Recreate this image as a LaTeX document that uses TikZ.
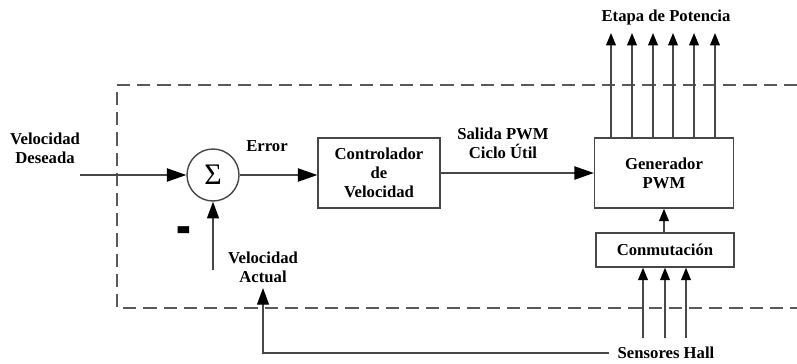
\documentclass[tikz,border=0pt]{standalone}
\usepackage{fontspec}
\setmainfont{Liberation Serif}
\usetikzlibrary{arrows.meta}
\newcommand{\lblfont}{\fontsize{9.5}{10.8}\selectfont\bfseries}
\begin{document}
\begin{tikzpicture}[x=0.02cm,y=-0.02cm,
  wire/.style={draw=black!72, line width=0.8pt,
    -{Triangle[length=7pt,width=5.5pt,color=black]}},
  bigwire/.style={wire,
    -{Triangle[length=11pt,width=7.5pt,color=black]}},
  midwire/.style={wire,
    -{Triangle[length=9.5pt,width=6.8pt,color=black]}},
  block/.style={draw=black!72, line width=0.8pt, inner sep=0pt,
    align=center, font=\lblfont},
  lbl/.style={align=center, font=\lblfont, inner sep=2pt},
  frame/.style={draw=black!65, line width=0.7pt,
    dash pattern=on 7.5pt off 4pt}]
\useasboundingbox (0,0) rectangle (797,363);

% dashed boundary of the controller
\draw[frame] (797,85) -- (117,85) -- (117,308) -- (797,308);

% blocks
\node[draw=black!72, line width=0.8pt, circle, minimum size=1.04cm,
      inner sep=0pt, font=\fontsize{17}{17}\selectfont] (sum) at (213,175) {Σ};
\node[block, minimum width=2.44cm, minimum height=1.4cm] (ctrl) at (379,173)
  {Controlador\\de\\Velocidad};
\node[block, minimum width=2.78cm, minimum height=1.4cm] (gen) at (664,173)
  {Generador\\PWM};
\node[block, minimum width=2.76cm, minimum height=0.68cm] (comm) at (665,250)
  {Conmutación};

% labels
\node[lbl] (vd) at (45,148) {Velocidad\\Deseada};
\node[lbl] (err) at (267,146) {Error};
\node[lbl] (spwm) at (503,143) {Salida PWM\\Ciclo Útil};
\node[lbl] (etapa) at (666,17) {Etapa de Potencia};
\node[lbl] (act) at (263,267) {Velocidad\\Actual};
\node[lbl, inner xsep=5pt] (hall) at (666,353) {Sensores Hall};
\node[font=\fontsize{18}{18}\selectfont\bfseries, inner sep=0pt] (minus)
  at (184,238) {\scalebox{1.4}[2.6]{-}};

% reference input and error path
\coordinate (vin) at (80,175);
\draw[bigwire] (vin) -- (sum.west);
\draw[bigwire] (sum.east) -- (sum.east -| ctrl.west);
\draw[bigwire] (ctrl.east) -- (gen.west);

% feedback into the summing junction
\coordinate (vfb) at (213,270);
\draw[midwire] (vfb) -- (sum.south);

% commutation to PWM generator
\draw[wire] (comm.north -| gen.south) -- (gen.south);

% outputs to the power stage
\foreach \xx [count=\i] in {611,632,653,673,694,715} {
  \coordinate (p\i) at (\xx,33);
  \draw[wire] (gen.north -| p\i) -- (p\i);
}

% hall sensor inputs
\foreach \xx [count=\i] in {643,665,686} {
  \coordinate (h\i) at (\xx,338);
  \draw[wire] (h\i) -- (h\i |- comm.south);
}

% speed feedback from the hall sensors
\coordinate (fbtip) at (263,288);
\draw[midwire] (hall.west) -| (fbtip);
\end{tikzpicture}
\end{document}
